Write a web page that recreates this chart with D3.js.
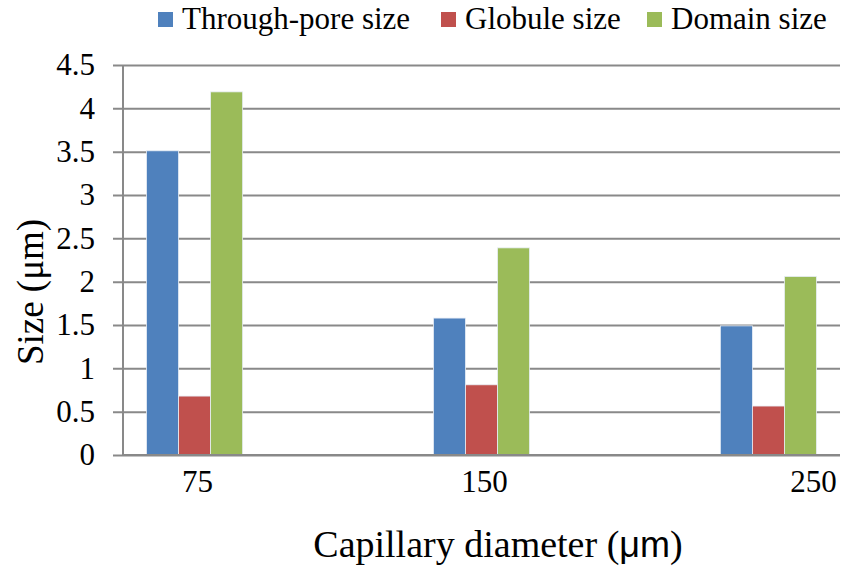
<!DOCTYPE html>
<html>
<head>
<meta charset="utf-8">
<script src="https://d3js.org/d3.v7.min.js"></script>
</head>
<body style="margin:0">
<svg id="vis" width="842" height="569"></svg>
<script>
  // data
  var diameters = ['75', '150', '250']
  var seriesNames = ['Through-pore size', 'Globule size', 'Domain size']
  var throughPore = [3.51, 1.58, 1.49]
  var globule = [0.68, 0.81, 0.565]
  var domain = [4.19, 2.39, 2.06]
  var yTicks = [0, 0.5, 1, 1.5, 2, 2.5, 3, 3.5, 4, 4.5]
  var colors = ['#4F81BD', '#C0504D', '#9BBB59']

  var serif = 'Liberation Serif'
  var width = 842, height = 569
  var margin = {top: 65, right: 2, bottom: 114, left: 123}

  var svg = d3.select('#vis')

  var values = [throughPore, globule, domain]
  var rows = diameters.map(function (d, i) {
    return {cat: d, vals: seriesNames.map(function (s, j) { return {name: s, v: values[j][i], k: j} })}
  })

  // scales
  var x = d3.scaleBand()
    .domain(diameters)
    .range([margin.left, width - margin.right])
    .paddingInner(0.665)
    .paddingOuter(0.082)

  var xs = d3.scaleBand()
    .domain(seriesNames)
    .range([0, x.bandwidth()])

  var y = d3.scaleLinear()
    .domain([0, 4.5])
    .range([height - margin.bottom, margin.top])

  // gridlines + y axis
  var yAxis = d3.axisLeft(y)
    .tickValues(yTicks)
    .tickFormat(function (d) { return d })
    .tickSize(-(width - margin.right - margin.left + 10))
    .tickPadding(18)

  var gy = svg.append('g')
    .attr('transform', 'translate(' + (margin.left - 10) + ',0)')
    .call(yAxis)
    .attr('font-family', serif)
    .attr('font-size', 31)
  gy.select('.domain').remove()
  gy.selectAll('line')
    .attr('stroke', '#898989')
    .attr('stroke-width', 2)
  gy.selectAll('text')
    .attr('fill', '#000')

  svg.append('line')
    .attr('x1', margin.left).attr('x2', margin.left)
    .attr('y1', y(4.5)).attr('y2', y(0))
    .attr('stroke', '#898989')
    .attr('stroke-width', 2)

  // bars
  var groups = svg.selectAll('g.grp')
    .data(rows)
    .enter().append('g')
      .attr('class', 'grp')
      .attr('transform', function (d) { return 'translate(' + x(d.cat) + ',0)' })

  groups.selectAll('rect')
    .data(function (d) { return d.vals })
    .enter().append('rect')
      .attr('x', function (d) { return xs(d.name) })
      .attr('y', function (d) { return y(d.v) })
      .attr('width', xs.bandwidth())
      .attr('height', function (d) { return y(0) - y(d.v) })
      .attr('fill', function (d) { return colors[d.k] })
      .attr('stroke', '#e8eef6')
      .attr('stroke-width', 0.8)

  // x axis
  svg.append('line')
    .attr('x1', margin.left).attr('x2', width - margin.right)
    .attr('y1', y(0)).attr('y2', y(0))
    .attr('stroke', '#898989')
    .attr('stroke-width', 2)

  var xAxis = d3.axisBottom(x).tickSize(0).tickPadding(0)
  var gx = svg.append('g')
    .attr('transform', 'translate(0,' + y(0) + ')')
    .call(xAxis)
    .attr('font-family', serif)
    .attr('font-size', 31)
  gx.select('.domain').remove()
  gx.selectAll('text')
    .attr('fill', '#000')
    .attr('dy', 37)
    .attr('dx', function (d, i) { return i === 2 ? 45 : 3 })

  // axis titles
  var xt = svg.append('text')
    .attr('x', 498)
    .attr('y', 557)
    .attr('text-anchor', 'middle')
    .attr('font-family', serif)
    .attr('font-size', 38)
  xt.append('tspan').text('Capillary diameter (')
  xt.append('tspan')
    .attr('font-family', 'Liberation Sans')
    .attr('font-size', 36)
    .text('μm')
  xt.append('tspan').text(')')

  svg.append('text')
    .attr('transform', 'translate(43,292) rotate(-90)')
    .attr('text-anchor', 'middle')
    .attr('font-family', serif)
    .attr('font-size', 37)
    .text('Size (μm)')

  // legend
  var legendX = [158, 441, 647]
  var leg = svg.selectAll('g.leg')
    .data(seriesNames)
    .enter().append('g')
      .attr('class', 'leg')
      .attr('transform', function (d, i) { return 'translate(' + legendX[i] + ',12)' })
  leg.append('rect')
    .attr('width', 15).attr('height', 15)
    .attr('fill', function (d, i) { return colors[i] })
  leg.append('text')
    .attr('x', 24)
    .attr('y', 17)
    .attr('font-family', serif)
    .attr('font-size', 31)
    .text(function (d) { return d })
</script>
</body>
</html>
